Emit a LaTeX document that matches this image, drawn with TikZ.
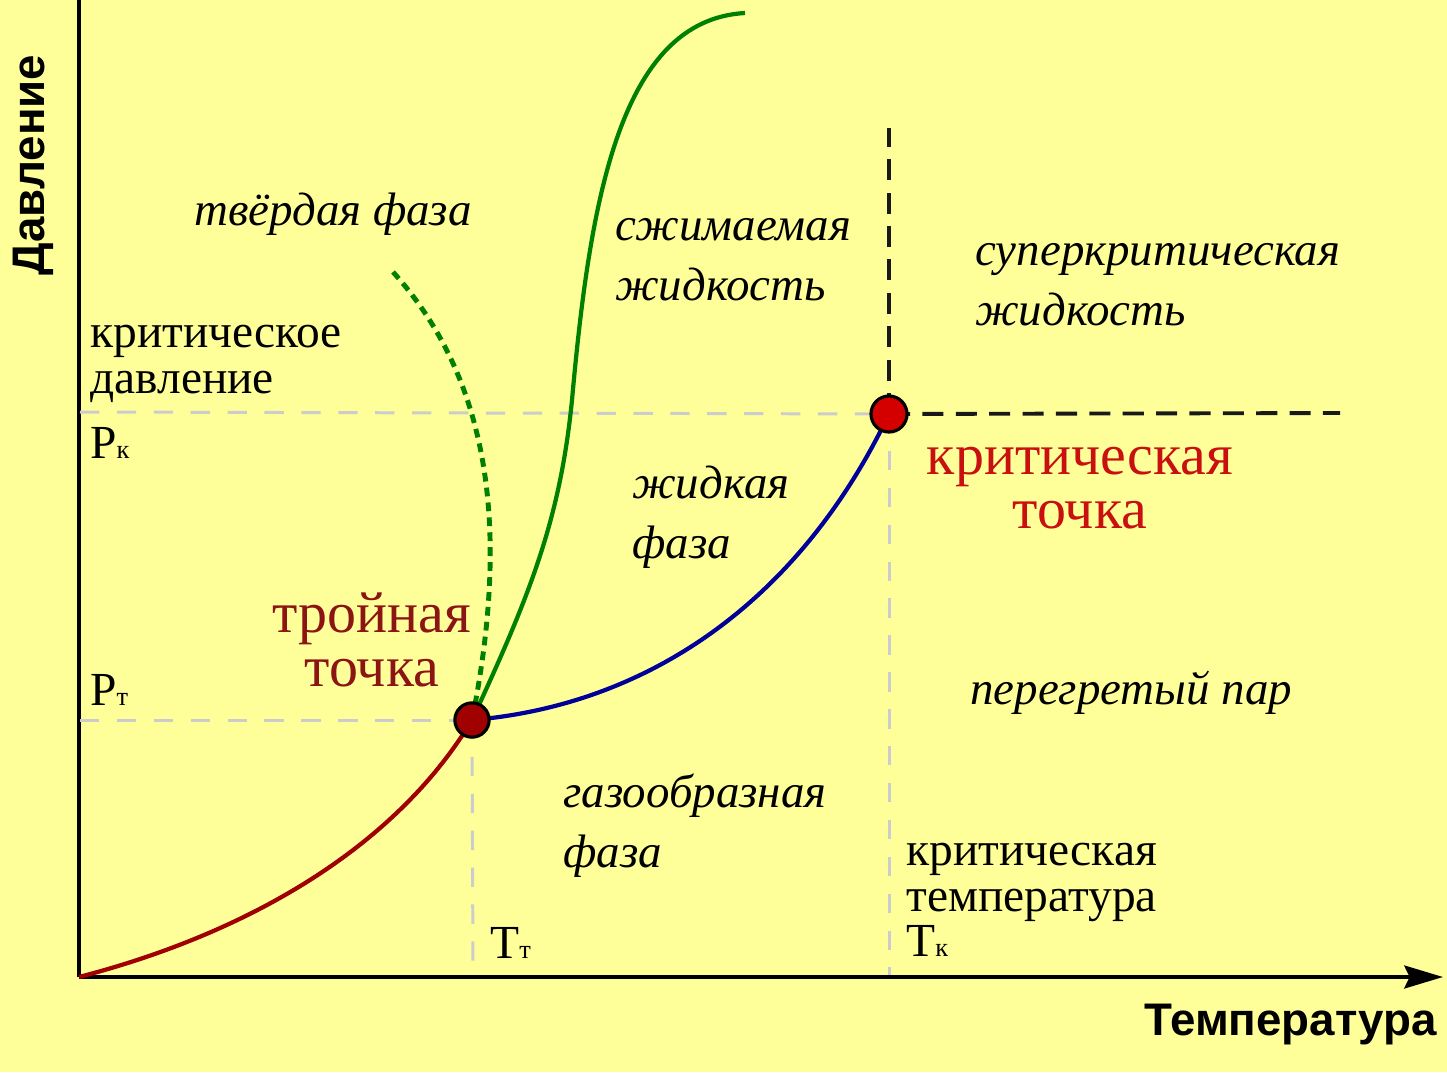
\documentclass[tikz,border=0pt]{standalone}
\usepackage{fontspec}
\setmainfont{Liberation Serif}
\newfontfamily\axisfont{Liberation Sans}
\usetikzlibrary{arrows.meta,positioning}
\definecolor{bgyellow}{HTML}{FFFF99}
\definecolor{sublred}{HTML}{A00000}
\definecolor{critred}{HTML}{D40000}
\definecolor{liqblue}{HTML}{000099}
\definecolor{meltgreen}{HTML}{008000}
\definecolor{guidegray}{HTML}{CCCCCC}
\definecolor{tripletext}{HTML}{8B1414}
\definecolor{crittext}{HTML}{C81010}
\newcommand{\lowidx}[1]{{\fontsize{15pt}{15pt}\selectfont #1}}

\begin{document}
\begin{tikzpicture}[
    x=0.02cm,y=-0.02cm,
    axis/.style={line width=2.3pt,black},
    guide/.style={line width=1.7pt,guidegray,dash pattern=on 11pt off 10pt},
    critline/.style={line width=2.2pt,black!90,dash pattern=on 12pt off 7pt},
    curve/.style={line width=2.4pt},
    dot/.style={circle,draw=black,line width=1.8pt,minimum size=19.5pt,inner sep=0pt},
    phase/.style={font=\fontsize{26.7pt}{34pt}\selectfont\itshape,align=left,inner sep=0pt},
    note/.style={font=\fontsize{27pt}{26pt}\selectfont,align=left,inner sep=0pt},
    pointlabel/.style={font=\fontsize{33pt}{31pt}\selectfont,align=center,inner sep=0pt}
  ]
    \fill[bgyellow] (0,0) rectangle (1447,1072);
    \useasboundingbox (0,0) rectangle (1447,1072);

    % axes
    \coordinate (origin) at (79,977);
    \coordinate (ytop) at (79,0);
    \coordinate (xend) at (1443,977);
    \draw[axis] (ytop) -- (origin);
    \draw[axis,-{Stealth[length=22pt,width=13pt,inset=3pt]}] (origin) -- (xend);
    \node[font=\axisfont\bfseries\fontsize{26pt}{26pt}\selectfont,rotate=90] (pres) at (33,165) {Давление};
    \node[font=\axisfont\bfseries\fontsize{26pt}{26pt}\selectfont,anchor=east] (temp) at (1443,1025) {Температура};

    % special points
    \coordinate (tp) at (472,720);
    \coordinate (cp) at (889,414);
    \coordinate (pk) at (80,412);
    \coordinate (pt) at (80,720);
    \coordinate (tt) at (473,975);
    \coordinate (tk) at (889,975);
    \coordinate (cpright) at (1340,413);
    \coordinate (cptop) at (889,128);
    \coordinate (meltend) at (745,13);
    \coordinate (waterstart) at (393,272);

    % guide lines
    \draw[guide] (pk) -- (cp);
    \draw[guide] (pt) -- (tp);
    \draw[guide] (tp) -- (tt);
    \draw[guide] (cp) -- (tk);
    \draw[critline] (cp) -- (cpright);
    \draw[critline] (cp) -- (cptop);

    % phase boundaries
    \draw[curve,sublred] (origin) .. controls (260,930) and (400,840) .. (tp);
    \draw[curve,liqblue] (tp) .. controls (650,705) and (800,600) .. (cp);
    \draw[curve,meltgreen] (tp) .. controls (530,595) and (560,520) .. (572,400)
      .. controls (590,200) and (620,20) .. (meltend);
    \draw[curve,meltgreen,line width=2.8pt,dash pattern=on 5pt off 3.5pt] (waterstart) .. controls (495,385) and (508,540) .. (tp);

    \node[dot,fill=sublred] (triple) at (tp) {};
    \node[dot,fill=critred,minimum size=20.5pt] (crit) at (cp) {};

    % labels
    \node[phase] (solid) at (333,214) {твёрдая фаза};
    \node[phase,anchor=west] (compr) at (615,260) {сжимаемая\\жидкость};
    \node[phase,anchor=west] (super) at (975,285) {суперкритическая\\жидкость};
    \node[phase,anchor=west] (liquid) at (632,517) {жидкая\\фаза};
    \node[phase,anchor=west] (vapour) at (970,693) {перегретый пар};
    \node[phase,anchor=west] (gas) at (563,826) {газообразная\\фаза};

    \node[pointlabel,text=tripletext] (triplelbl) at (372,640) {тройная\\точка};
    \node[pointlabel,text=crittext] (critlbl) at (1080,488) {критическая\\точка};

    \node[note,anchor=west] (pklbl) at (90,364) {критическое\\давление};
    \node[note,anchor=west] (pksym) at (90,443) {P\lowidx{к}};
    \node[note,anchor=west] (ptsym) at (90,690) {P\lowidx{т}};
    \node[note,anchor=west] (ttsym) at (490,943) {T\lowidx{т}};
    \node[note,anchor=west] (tklbl) at (906,900) {критическая\\температура\\T\lowidx{к}};
\end{tikzpicture}
\end{document}
